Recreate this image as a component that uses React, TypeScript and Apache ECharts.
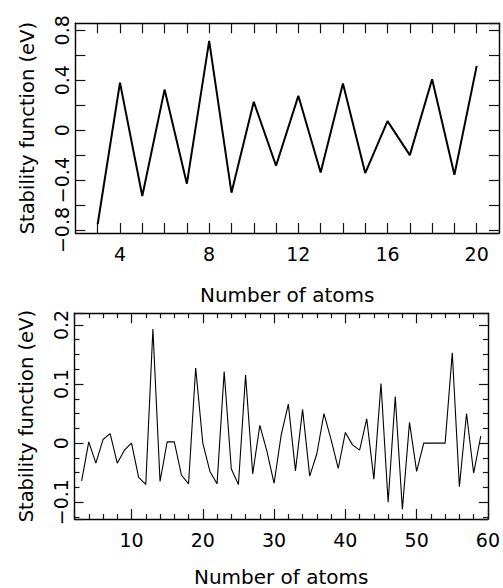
import React, { useEffect, useRef } from "react";
import * as echarts from "echarts";

// Top panel: small clusters
const atomsSmall = [3, 4, 5, 6, 7, 8, 9, 10, 11, 12, 13, 14, 15, 16, 17, 18, 19, 20];
const stabilitySmall = [
  -0.752, 0.381, -0.528, 0.325, -0.429, 0.715, -0.501, 0.227, -0.285, 0.275,
  -0.339, 0.373, -0.344, 0.072, -0.2, 0.408, -0.357, 0.515,
];

// Bottom panel: clusters 3..59
const atomsLarge = [
  3, 4, 5, 6, 7, 8, 9, 10, 11, 12, 13, 14, 15, 16, 17, 18, 19, 20, 21, 22, 23, 24, 25, 26, 27, 28, 29, 30,
  31, 32, 33, 34, 35, 36, 37, 38, 39, 40, 41, 42, 43, 44, 45, 46, 47, 48, 49, 50, 51, 52, 53, 54, 55, 56,
  57, 58, 59,
];
const stabilityLarge = [
  -0.064, 0.002, -0.034, 0.006, 0.016, -0.034, -0.012, 0.0, -0.058, -0.07,
  0.193, -0.065, 0.002, 0.002, -0.054, -0.069, 0.127, 0.0, -0.048, -0.069,
  0.121, -0.044, -0.07, 0.115, -0.052, 0.03, -0.014, -0.068, 0.014, 0.066,
  -0.047, 0.057, -0.056, -0.018, 0.05, 0.006, -0.043, 0.018, -0.003, -0.012,
  0.041, -0.061, 0.101, -0.1, 0.079, -0.112, 0.035, -0.048, 0.0, 0.0,
  0.0, 0.0, 0.153, -0.074, 0.05, -0.051, 0.012,
];

// Tick label settings
const topXLabelStep = 4;
const topYLabelStep = 0.4;
const bottomXLabelStep = 10;
const bottomYLabelStep = 0.1;

const xTitle = "Number of atoms";
const yTitle = "Stability function (eV)";

const FONT = "DejaVu Sans";
const BLACK = "#000";
const TICK = "#141414";

function fmtNum(v: number): string {
  const r = Math.round(v * 1000) / 1000;
  if (Math.abs(r) < 1e-9) return "0";
  const s = String(Math.abs(r));
  return r < 0 ? "\u2212" + s : s;
}

function isMultiple(v: number, step: number): boolean {
  const q = v / step;
  return Math.abs(q - Math.round(q)) < 1e-6;
}

export default function App() {
  const ref = useRef<HTMLDivElement>(null);

  useEffect(() => {
    if (!ref.current) return;
    const chart = echarts.init(ref.current, null, { renderer: "svg" });

    const al = () => ({ color: BLACK, width: 1.4 });
    const tl = () => ({ color: TICK, width: 1.2 });
    const labelStyle = { color: BLACK, fontSize: 19, fontFamily: FONT };
    const nameStyleX = { color: BLACK, fontSize: 20, fontFamily: FONT };
    const nameStyleY = { color: BLACK, fontSize: 19.5, fontFamily: FONT };

    const topXRange = { min: 2, max: 21 };
    const topYRange = { min: -0.824, max: 0.856 };
    const botXRange = { min: 2, max: 60 };
    const botYRange = { min: -0.1285, max: 0.2197 };

    const xAxes: any[] = [
      {
        type: "value", gridIndex: 0, position: "bottom", ...topXRange, interval: 1,
        axisLine: { show: true, onZero: false, lineStyle: al() },
        axisTick: { show: true, inside: true, length: 10, lineStyle: tl() },
        axisLabel: {
          ...labelStyle, margin: 11, showMinLabel: false, showMaxLabel: false,
          formatter: (v: number) => (isMultiple(v, topXLabelStep) ? fmtNum(v) : ""),
        },
        splitLine: { show: false },
        name: xTitle, nameLocation: "middle", nameGap: 52, nameTextStyle: nameStyleX,
      },
      {
        type: "value", gridIndex: 0, position: "top", ...topXRange, interval: 1,
        axisLine: { show: true, onZero: false, lineStyle: al() },
        axisTick: { show: true, inside: true, length: 10, lineStyle: tl() },
        axisLabel: { show: false },
        splitLine: { show: false },
      },
      {
        type: "value", gridIndex: 1, position: "bottom", ...botXRange,
        splitNumber: 6, minInterval: 10, maxInterval: 10,
        axisLine: { show: true, onZero: false, lineStyle: al() },
        axisTick: { show: true, inside: true, length: 10, lineStyle: tl() },
        minorTick: { show: true, splitNumber: 5, length: 5, lineStyle: tl() },
        axisLabel: {
          ...labelStyle, margin: 11, showMinLabel: false,
          formatter: (v: number) => (isMultiple(v, bottomXLabelStep) ? fmtNum(v) : ""),
        },
        splitLine: { show: false },
        minorSplitLine: { show: false },
        name: xTitle, nameLocation: "middle", nameGap: 48, nameTextStyle: nameStyleX,
      },
      {
        type: "value", gridIndex: 1, position: "top", ...botXRange,
        splitNumber: 6, minInterval: 10, maxInterval: 10,
        axisLine: { show: true, onZero: false, lineStyle: al() },
        axisTick: { show: true, inside: true, length: 10, lineStyle: tl() },
        minorTick: { show: true, splitNumber: 5, length: 5, lineStyle: tl() },
        axisLabel: { show: false },
        splitLine: { show: false },
        minorSplitLine: { show: false },
      },
    ];

    const yAxes: any[] = [
      {
        type: "value", gridIndex: 0, position: "left", ...topYRange,
        splitNumber: 8, minInterval: 0.2, maxInterval: 0.2,
        axisLine: { show: true, onZero: false, lineStyle: al() },
        axisTick: { show: true, inside: true, length: 10, lineStyle: tl() },
        axisLabel: {
          ...labelStyle, rotate: 90, margin: 4, showMinLabel: false, showMaxLabel: false,
          formatter: (v: number) => (isMultiple(v, topYLabelStep) ? fmtNum(v) : ""),
        },
        splitLine: { show: false },
        name: yTitle, nameLocation: "middle", nameGap: 38, nameTextStyle: nameStyleY,
      },
      {
        type: "value", gridIndex: 0, position: "right", ...topYRange,
        splitNumber: 8, minInterval: 0.2, maxInterval: 0.2,
        axisLine: { show: true, onZero: false, lineStyle: al() },
        axisTick: { show: true, inside: true, length: 10, lineStyle: tl() },
        axisLabel: { show: false },
        splitLine: { show: false },
      },
      {
        type: "value", gridIndex: 1, position: "left", ...botYRange,
        splitNumber: 4, minInterval: 0.1, maxInterval: 0.1,
        axisLine: { show: true, onZero: false, lineStyle: al() },
        axisTick: { show: true, inside: true, length: 9, lineStyle: tl() },
        minorTick: { show: true, splitNumber: 4, length: 5, lineStyle: tl() },
        axisLabel: {
          ...labelStyle, rotate: 90, margin: 4, showMinLabel: false, showMaxLabel: false,
          formatter: (v: number) => (isMultiple(v, bottomYLabelStep) ? fmtNum(v) : ""),
        },
        splitLine: { show: false },
        minorSplitLine: { show: false },
        name: yTitle, nameLocation: "middle", nameGap: 38, nameTextStyle: nameStyleY,
      },
      {
        type: "value", gridIndex: 1, position: "right", ...botYRange,
        splitNumber: 4, minInterval: 0.1, maxInterval: 0.1,
        axisLine: { show: true, onZero: false, lineStyle: al() },
        axisTick: { show: true, inside: true, length: 9, lineStyle: tl() },
        minorTick: { show: true, splitNumber: 4, length: 5, lineStyle: tl() },
        axisLabel: { show: false },
        splitLine: { show: false },
        minorSplitLine: { show: false },
      },
    ];

    chart.setOption({
      animation: false,
      backgroundColor: "#fff",
      grid: [
        { left: 75.4, top: 23.3, width: 423.6, height: 209.7, containLabel: false },
        { left: 74.5, top: 313.3, width: 413.5, height: 206, containLabel: false },
      ],
      xAxis: xAxes,
      yAxis: yAxes,
      series: [
        {
          type: "line", xAxisIndex: 0, yAxisIndex: 0, symbol: "none",
          lineStyle: { color: BLACK, width: 2 },
          data: atomsSmall.map((n, i) => [n, stabilitySmall[i]]),
        },
        {
          type: "line", xAxisIndex: 2, yAxisIndex: 2, symbol: "none",
          lineStyle: { color: BLACK, width: 1.1 },
          data: atomsLarge.map((n, i) => [n, stabilityLarge[i]]),
        },
      ],
    });

    return () => chart.dispose();
  }, []);

  return (
    <div
      ref={ref}
      style={{ position: "fixed", left: 0, top: 0, width: 503, height: 588, background: "#fff" }}
    />
  );
}
